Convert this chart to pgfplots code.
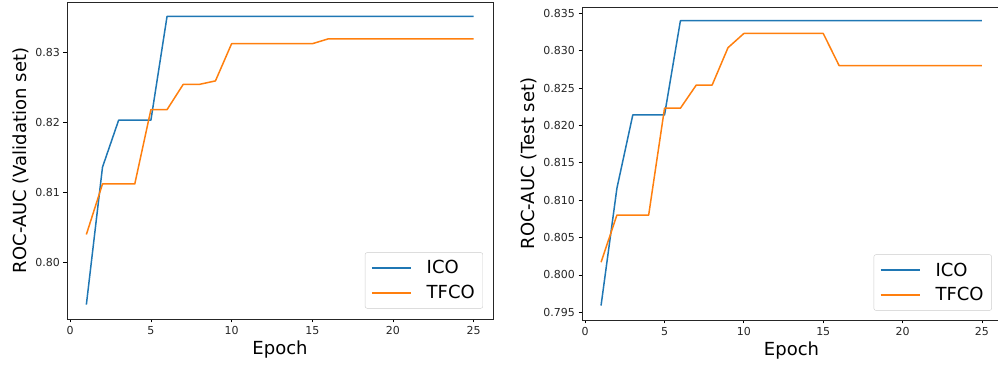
\documentclass[border=0pt]{standalone}
\usepackage{pgfplots}
\pgfplotsset{compat=1.18}
\usepackage{fontspec}
\setmainfont{DejaVu Sans}
\definecolor{c0}{HTML}{1F77B4}
\definecolor{c1}{HTML}{FF7F0E}
\pgfplotsset{
  mystyle/.style={
    scale only axis,
    anchor=south west,
    xmin=-0.2, xmax=26.2,
    xtick={0,5,10,15,20,25},
    xtick pos=bottom, ytick pos=left,
    tick align=outside,
    major tick length=3.5pt,
    tick style={black, line width=0.8pt},
    axis line style={line width=0.8pt, black!85},
    /pgf/number format/assume math mode=true,
    tick label style={font=\fontsize{11}{13}\selectfont, text=black!85},
    label style={font=\fontsize{18}{21}\selectfont},
    xlabel={Epoch},
    legend cell align=left,
    legend style={anchor=south east, draw=black!20, rounded corners=2pt, fill=white, fill opacity=0.8, text opacity=1, draw opacity=1,
      font=\fontsize{18}{21}\selectfont, inner xsep=6pt, inner ysep=6pt, row sep=6pt,
      /tikz/every odd column/.append style={column sep=13pt}},
    legend image code/.code={\draw[#1, line width=1.6pt, draw opacity=1] (0pt,0pt) -- (39pt,0pt);},
  }
}
\begin{document}
\begin{tikzpicture}
\useasboundingbox (0,0) rectangle (998pt,366pt);
\begin{axis}[mystyle,
  at={(67pt,47pt)}, width=426pt, height=317pt,
  ymin=0.79195, ymax=0.83715,
  ytick={0.80,0.81,0.82,0.83},
  yticklabel style={/pgf/number format/fixed, /pgf/number format/fixed zerofill, /pgf/number format/precision=2},
  ylabel={ROC-AUC (Validation set)},
  legend style={at={(0.9765,0.0315)}, yshift=0.5pt},
]
\addplot[c0, line width=1.5pt, line join=round] coordinates {(1,0.7940)(2,0.8136)(3,0.8203)(4,0.8203)(5,0.8203)(6,0.8351)(7,0.8351)(8,0.8351)(9,0.8351)(10,0.8351)(11,0.8351)(12,0.8351)(13,0.8351)(14,0.8351)(15,0.8351)(16,0.8351)(17,0.8351)(18,0.8351)(19,0.8351)(20,0.8351)(21,0.8351)(22,0.8351)(23,0.8351)(24,0.8351)(25,0.8351)};
\addlegendentry{ICO}
\addplot[c1, line width=1.5pt, line join=round] coordinates {(1,0.8040)(2,0.8112)(3,0.8112)(4,0.8112)(5,0.8218)(6,0.8218)(7,0.8254)(8,0.8254)(9,0.8259)(10,0.8312)(11,0.8312)(12,0.8312)(13,0.8312)(14,0.8312)(15,0.8312)(16,0.8319)(17,0.8319)(18,0.8319)(19,0.8319)(20,0.8319)(21,0.8319)(22,0.8319)(23,0.8319)(24,0.8319)(25,0.8319)};
\addlegendentry{TFCO}
\end{axis}
\begin{axis}[mystyle,
  at={(582pt,46pt)}, width=419pt, height=313pt,
  ymin=0.79397, ymax=0.83584,
  ytick={0.795,0.800,0.805,0.810,0.815,0.820,0.825,0.830,0.835},
  yticklabel style={/pgf/number format/fixed, /pgf/number format/fixed zerofill, /pgf/number format/precision=3},
  ylabel={ROC-AUC (Test set)},
  legend style={at={(0.978,0.03)}},
]
\addplot[c0, line width=1.5pt, line join=round] coordinates {(1,0.7959)(2,0.8116)(3,0.8214)(4,0.8214)(5,0.8214)(6,0.8340)(7,0.8340)(8,0.8340)(9,0.8340)(10,0.8340)(11,0.8340)(12,0.8340)(13,0.8340)(14,0.8340)(15,0.8340)(16,0.8340)(17,0.8340)(18,0.8340)(19,0.8340)(20,0.8340)(21,0.8340)(22,0.8340)(23,0.8340)(24,0.8340)(25,0.8340)};
\addlegendentry{ICO}
\addplot[c1, line width=1.5pt, line join=round] coordinates {(1,0.8017)(2,0.8080)(3,0.8080)(4,0.8080)(5,0.8223)(6,0.8223)(7,0.8254)(8,0.8254)(9,0.8304)(10,0.8323)(11,0.8323)(12,0.8323)(13,0.8323)(14,0.8323)(15,0.8323)(16,0.8280)(17,0.8280)(18,0.8280)(19,0.8280)(20,0.8280)(21,0.8280)(22,0.8280)(23,0.8280)(24,0.8280)(25,0.8280)};
\addlegendentry{TFCO}
\end{axis}
\end{tikzpicture}
\end{document}
